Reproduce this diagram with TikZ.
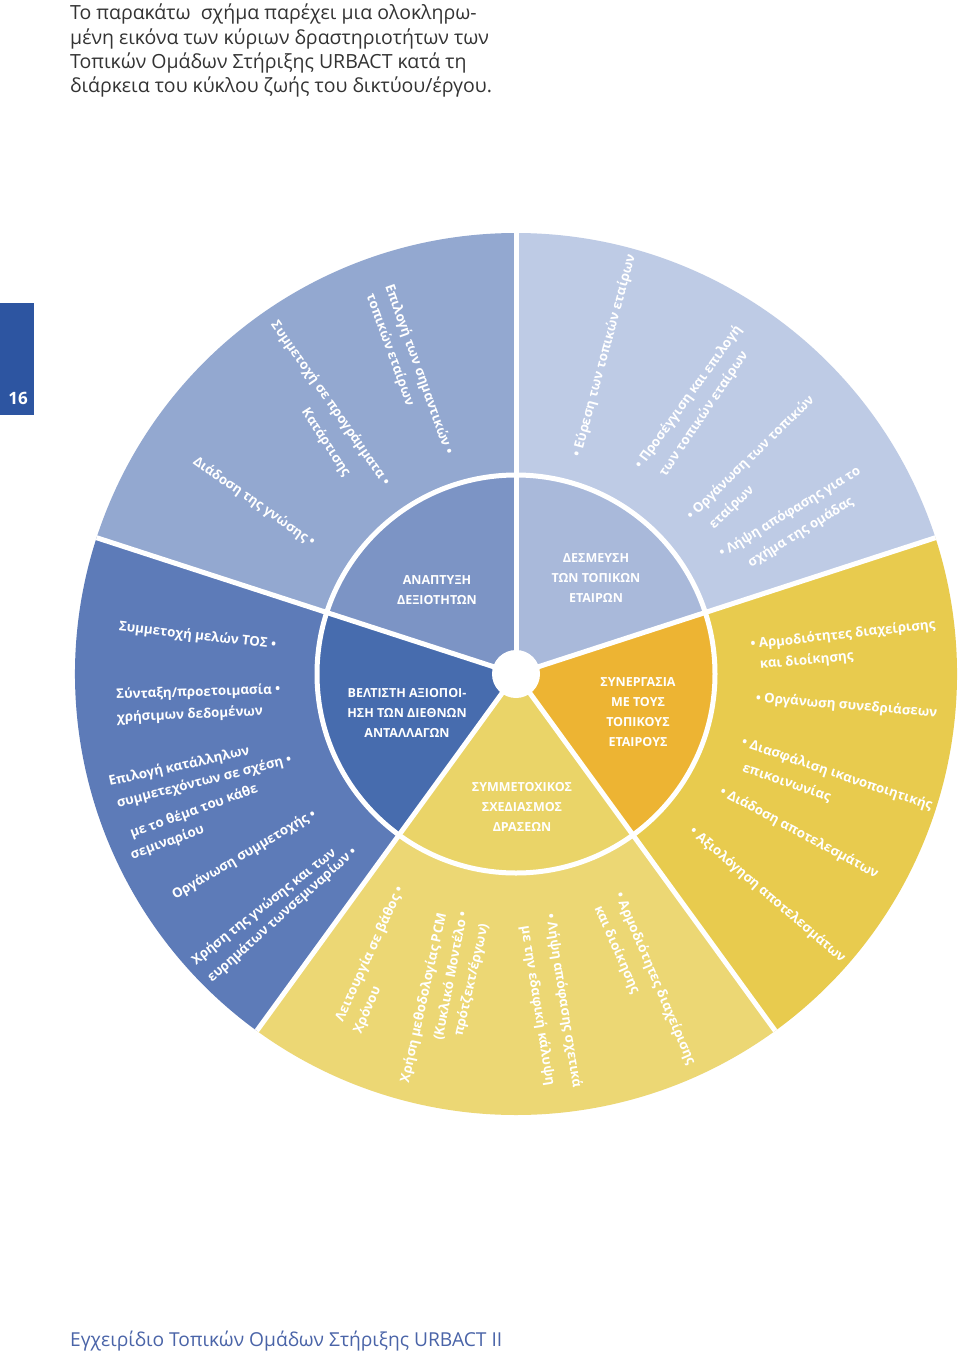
\documentclass[tikz,border=0pt]{standalone}
\usepackage{fontspec}
\setmainfont{Open Sans}
\definecolor{oTL}{HTML}{93A8D0}
\definecolor{iTL}{HTML}{7C94C5}
\definecolor{oTR}{HTML}{BECBE5}
\definecolor{iTR}{HTML}{A9B9DA}
\definecolor{oR}{HTML}{E8CB4E}
\definecolor{iR}{HTML}{EDB433}
\definecolor{oB}{HTML}{ECD774}
\definecolor{iB}{HTML}{EAD468}
\definecolor{oL}{HTML}{5D7BB8}
\definecolor{iL}{HTML}{476CAE}
\definecolor{tabblue}{HTML}{2D55A1}
\definecolor{footblue}{HTML}{4A64A8}
\definecolor{headgray}{HTML}{333333}
\begin{document}
\begin{tikzpicture}[x=1pt,y=1pt,
  lab/.style={text=white, font=\bfseries\fontsize{13.3}{15}\selectfont, inner sep=0pt},
  inn/.style={text=white, font=\bfseries\fontsize{12.5}{20}\selectfont, align=center, inner sep=0pt},
  sep/.style={white, line width=5pt}]
\useasboundingbox (0,0) rectangle (960,-1360);
\fill[white] (0,0) rectangle (960,-1360);

% header
\node[anchor=north west, align=left, inner sep=0pt, text=headgray,
  font=\fontsize{19.5}{24.3}\selectfont] (hdr) at (70,-4)
  {Το παρακάτω\ \ σχήμα παρέχει μια ολοκληρω-\\
   μένη εικόνα των κύριων δραστηριοτήτων των\\
   Τοπικών Ομάδων Στήριξης URBACT κατά τη\\
   διάρκεια του κύκλου ζωής του δικτύου/έργου.};

% page tab
\fill[tabblue] (0,-303) rectangle (34,-415);
\node[text=white, font=\bfseries\fontsize{17}{19}\selectfont] (pg) at (18,-398) {16};

% footer
\node[anchor=west, inner sep=0pt, text=footblue, font=\fontsize{19.2}{21}\selectfont] (ftr)
  at (70,-1341) {Εγχειρίδιο Τοπικών Ομάδων Στήριξης URBACT II};

% wheel
\coordinate (C) at (516,-674);
\def\R{441}
\def\r{199}
\fill[oTL] (C) -- ++(90:\R) arc[start angle=90,end angle=162,radius=\R] -- cycle;
\fill[oL]  (C) -- ++(162:\R) arc[start angle=162,end angle=234,radius=\R] -- cycle;
\fill[oB]  (C) -- ++(234:\R) arc[start angle=234,end angle=306,radius=\R] -- cycle;
\fill[oR]  (C) -- ++(306:\R) arc[start angle=306,end angle=378,radius=\R] -- cycle;
\fill[oTR] (C) -- ++(18:\R) arc[start angle=18,end angle=90,radius=\R] -- cycle;
\fill[iTL] (C) -- ++(90:\r) arc[start angle=90,end angle=162,radius=\r] -- cycle;
\fill[iL]  (C) -- ++(162:\r) arc[start angle=162,end angle=234,radius=\r] -- cycle;
\fill[iB]  (C) -- ++(234:\r) arc[start angle=234,end angle=306,radius=\r] -- cycle;
\fill[iR]  (C) -- ++(306:\r) arc[start angle=306,end angle=378,radius=\r] -- cycle;
\fill[iTR] (C) -- ++(18:\r) arc[start angle=18,end angle=90,radius=\r] -- cycle;
\foreach \a in {18,90,162,234,306} \draw[sep] (C) -- ++(\a:\R);
\draw[sep] (C) circle[radius=\r];
\fill[white] (C) circle[radius=24];

% inner labels
\node[inn] (i1) at (437,-590) {ΑΝΑΠΤΥΞΗ\\ΔΕΞΙΟΤΗΤΩΝ};
\node[inn] (i2) at (596,-578) {ΔΕΣΜΕΥΣΗ\\ΤΩΝ ΤΟΠΙΚΩΝ\\ΕΤΑΙΡΩΝ};
\node[inn] (i3) at (638,-712) {ΣΥΝΕΡΓΑΣΙΑ\\ΜΕ ΤΟΥΣ\\ΤΟΠΙΚΟΥΣ\\ΕΤΑΙΡΟΥΣ};
\node[inn] (i4) at (522,-807) {ΣΥΜΜΕΤΟΧΙΚΟΣ\\ΣΧΕΔΙΑΣΜΟΣ\\ΔΡΑΣΕΩΝ};
\node[inn] (i5) at (407,-713) {ΒΕΛΤΙΣΤΗ ΑΞΙΟΠΟΙ-\\ΗΣΗ ΤΩΝ ΔΙΕΘΝΩΝ\\ΑΝΤΑΛΛΑΓΩΝ};

% top-left sector
\node[lab, rotate=-70.3] (t1) at (418.8,-369.5) {Επιλογή των σημαντικών •};
\node[lab, rotate=-70]   (t2) at (390,-350) {τοπικών εταίρων};
\node[lab, rotate=-55]   (t3) at (330.3,-403.3) {Συμμετοχή σε προγράμματα •};
\node[lab, rotate=-57]   (t4) at (325.8,-442.5) {Κατάρτισης};
\node[lab, rotate=-35]   (t5) at (254,-502) {Διάδοση της γνώσης •};

% top-right sector
\node[lab, rotate=74.9] (r1) at (604.3,-355.8) {• Εύρεση των τοπικών εταίρων};
\node[lab, rotate=54.3] (r2) at (688.5,-397.5) {• Προσέγγιση και επιλογή};
\node[lab, rotate=56]   (r3) at (704,-414) {των τοπικών εταίρων};
\node[lab, rotate=44.3] (r4) at (750.8,-458) {• Οργάνωση των τοπικών};
\node[lab, rotate=44]   (r5) at (731.7,-507.5) {εταίρων};
\node[lab, rotate=31.3] (r6) at (790,-512.5) {• Λήψη απόφασης για το};
\node[lab, rotate=31.7] (r7) at (800.8,-532.5) {σχήμα της ομάδας};

% right sector
\node[lab, rotate=6.3]   (y1) at (843,-635) {• Αρμοδιότητες διαχείρισης};
\node[lab, rotate=5]     (y2) at (806.7,-660.8) {και διοίκησης};
\node[lab, rotate=-4.7]  (y3) at (846.5,-705.8) {• Οργάνωση συνεδριάσεων};
\node[lab, rotate=-18.7] (y4) at (837,-774.5) {• Διασφάλιση ικανοποιητικής};
\node[lab, rotate=-18.8] (y5) at (786.7,-782.5) {επικοινωνίας};
\node[lab, rotate=-28.2] (y6) at (799,-833) {• Διάδοση αποτελεσμάτων};
\node[lab, rotate=-40.6] (y7) at (767.5,-895) {• Αξιολόγηση αποτελεσμάτων};

% bottom sector
\node[lab, rotate=65.4]  (b1) at (370,-954) {Λειτουργία σε βάθος •};
\node[lab, rotate=67]    (b2) at (367.5,-1010) {Χρόνου};
\node[lab, rotate=77.5]  (b3) at (424,-998) {Χρήση μεθοδολογίας PCM};
\node[lab, rotate=79]    (b4) at (450.8,-975.8) {(Κυκλικό Μοντέλο •};
\node[lab, rotate=77]    (b5) at (471.7,-980) {πρότζεκτ/έργων)};
\node[lab, rotate=-81.2] (b6) at (563.3,-1000.8) {• Λήψη απόφασης σχετικά};
\node[lab, rotate=-81]   (b7) at (537.5,-1005.8) {με την εδαφική κάλυψη};
\node[lab, rotate=-66.9] (b8) at (655,-979) {• Αρμοδιότητες διαχείρισης};
\node[lab, rotate=-66]   (b9) at (616.7,-950) {και διοίκησης};

% left sector
\node[lab, rotate=-6.6] (p1)  at (197.5,-636) {Συμμετοχή μελών ΤΟΣ •};
\node[lab, rotate=1.8]  (p2)  at (198.3,-692.5) {Σύνταξη/προετοιμασία •};
\node[lab, rotate=2.6]  (p3)  at (190,-715) {χρήσιμων δεδομένων};
\node[lab, rotate=12.5] (p4)  at (179.2,-766.7) {Επιλογή κατάλληλων};
\node[lab, rotate=14.2] (p5)  at (204.2,-781.7) {συμμετεχόντων σε σχέση •};
\node[lab, rotate=20]   (p6)  at (194,-811.5) {με το θέμα του κάθε};
\node[lab, rotate=20]   (p7)  at (167.5,-842.5) {σεμιναρίου};
\node[lab, rotate=30.5] (p8)  at (244.2,-855) {Οργάνωση συμμετοχής •};
\node[lab, rotate=38.3] (p9)  at (264.2,-906.7) {Χρήση της γνώσης και των};
\node[lab, rotate=41.8] (p10) at (282.5,-915) {ευρημάτων τωνσεμιναρίων •};
\end{tikzpicture}
\end{document}
